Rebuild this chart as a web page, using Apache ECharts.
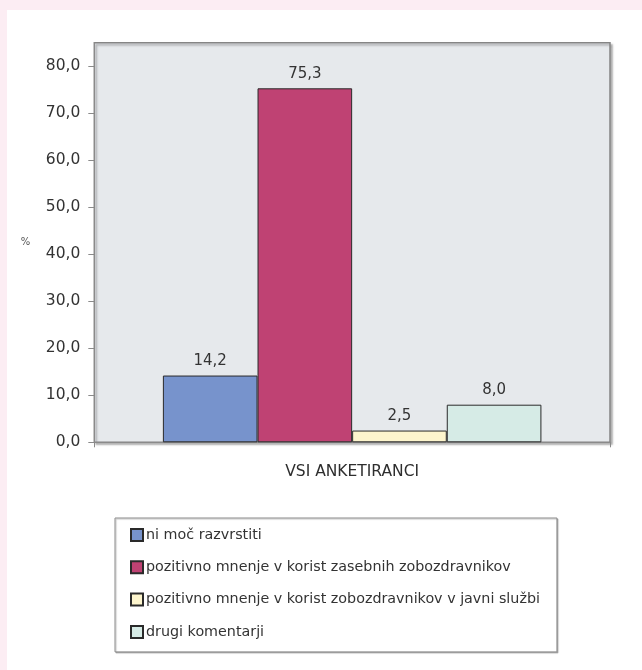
<!DOCTYPE html>
<html>
<head>
<meta charset="utf-8">
<script src="https://cdn.jsdelivr.net/npm/echarts@6/dist/echarts.min.js"></script>
<style>
  html, body { margin: 0; padding: 0; background: #fcedf3; width: 642px; height: 670px; overflow: hidden; }
  #chart { position: absolute; left: 7px; top: 10px; width: 635px; height: 660px; background: #ffffff; }
</style>
</head>
<body>
<div id="chart"></div>
<script>
// Survey answers, share of all respondents (%)
const categories = ['VSI ANKETIRANCI'];
const seriesNames = [
  'ni moč razvrstiti',
  'pozitivno mnenje v korist zasebnih zobozdravnikov',
  'pozitivno mnenje v korist zobozdravnikov v javni službi',
  'drugi komentarji'
];
const niMocRazvrstiti = [14.2];
const zasebniZobozdravniki = [75.3];
const javnaSluzba = [2.5];
const drugiKomentarji = [8.0];
const yTicks = [0, 10, 20, 30, 40, 50, 60, 70, 80];

const seriesValues = [niMocRazvrstiti, zasebniZobozdravniki, javnaSluzba, drugiKomentarji];
const colors = ['#7793cc', '#bf4273', '#fdf5cd', '#d6ebe6'];

const fmt = v => Number(v).toFixed(1).replace('.', ',');
const textFont = 'DejaVu Sans';

const chart = echarts.init(document.getElementById('chart'), null, { renderer: 'canvas' });

chart.setOption({
  animation: false,
  grid: {
    left: 87.3, top: 32.7, right: 32, bottom: 227.7,
    show: true,
    backgroundColor: '#e6e9ec',
    borderColor: '#858585',
    borderWidth: 1.5,
    shadowColor: 'rgba(0,0,0,0.28)',
    shadowOffsetX: 2,
    shadowOffsetY: 2,
    shadowBlur: 2
  },
  legend: {
    orient: 'vertical',
    left: 108, top: 508,
    padding: [10, 17, 13, 15],
    itemGap: 18.3,
    itemWidth: 12, itemHeight: 12,
    icon: 'rect',
    borderColor: '#8a8a8a',
    borderWidth: 1,
    shadowColor: 'rgba(0,0,0,0.25)',
    shadowOffsetX: 1, shadowOffsetY: 1, shadowBlur: 1,
    backgroundColor: '#ffffff',
    textStyle: { fontFamily: textFont, fontSize: 14.3, lineHeight: 14, color: '#333', padding: [0, 0, 0, -2] },
    data: seriesNames
  },
  xAxis: {
    type: 'category',
    data: categories,
    axisLine: { lineStyle: { color: '#8a8a8a', width: 1 } },
    axisTick: { show: true, length: 5, lineStyle: { color: '#8a8a8a' } },
    axisLabel: { margin: 22, fontFamily: textFont, fontSize: 15.5, color: '#2e2e2e' }
  },
  yAxis: {
    type: 'value',
    min: 0, max: 85,
    name: '%',
    nameLocation: 'middle',
    nameRotate: 0,
    nameGap: 64,
    nameTextStyle: { fontFamily: textFont, fontSize: 10, color: '#555' },
    axisLine: { show: true, lineStyle: { color: '#8a8a8a', width: 1 } },
    axisTick: { show: true, length: 6, customValues: yTicks, lineStyle: { color: '#8a8a8a' } },
    axisLabel: {
      customValues: yTicks,
      formatter: fmt,
      margin: 14,
      fontFamily: textFont, fontSize: 15.5, color: '#333'
    },
    splitLine: { show: false }
  },
  series: seriesNames.map((name, i) => ({
    name,
    type: 'bar',
    data: seriesValues[i],
    barGap: '0%',
    barCategoryGap: '26.6%',
    itemStyle: { color: colors[i], borderColor: '#2a2a2a', borderWidth: 1 },
    label: {
      show: true, position: 'top', distance: 7,
      formatter: p => fmt(p.value),
      fontFamily: textFont, fontSize: 15, color: '#333'
    }
  }))
});
</script>
</body>
</html>
